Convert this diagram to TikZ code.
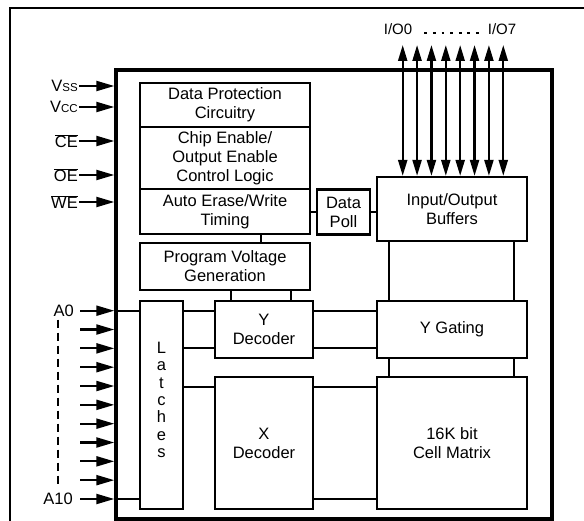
\documentclass[tikz,border=0pt]{standalone}
\usepackage{fontspec}
\setmainfont{Liberation Sans}
\usetikzlibrary{arrows.meta}
\newcommand\blkfont{\fontsize{16.5pt}{19pt}\selectfont}
\newcommand\subfont{\fontsize{11.5pt}{12pt}\selectfont}
\tikzset{
  blk/.style={draw, line width=2.2pt, align=center, inner sep=0pt, font=\blkfont},
  pin/.style={anchor=east, inner sep=1pt, font=\blkfont},
  wire/.style={line width=2.2pt},
  sig/.style={line width=2.2pt, -{Triangle[length=18pt,width=10pt]}},
  bus/.style={line width=2.2pt, {Triangle[length=16pt,width=9pt]}-{Triangle[length=16pt,width=9pt]}},
}
\begin{document}
\begin{tikzpicture}[x=1pt, y=-1pt]
\useasboundingbox (0,0) rectangle (584,521);
% Rahmen
\draw[line width=2.8pt] (10,540) -- (10,8) -- (600,8);
% Chip
\node[blk, line width=3.4pt, minimum width=436pt, minimum height=449pt] (chip) at (334,294.5) {};
% Steuerblock
\node[blk, minimum width=170pt, minimum height=44pt] (dp)  at (225,105)   {Data Protection\\Circuitry};
\node[blk, minimum width=170pt, minimum height=62pt] (ce)  at (225,158)   {Chip Enable/\\Output Enable\\Control Logic};
\node[blk, minimum width=170pt, minimum height=45pt] (aw)  at (225,211.5) {Auto Erase/Write\\Timing};
\node[blk, minimum width=170pt, minimum height=47pt] (pvg) at (225,266.5) {Program Voltage\\Generation};
\node[blk, minimum width=53pt,  minimum height=45pt] (dpl) at (343.5,212) {Data\\Poll};
% Datenpfad
\node[blk, minimum width=150pt, minimum height=64pt]  (iob) at (452,209)   {Input/Output\\Buffers};
\node[blk, minimum width=150pt, minimum height=57pt]  (ygt) at (452,329.5) {Y Gating};
\node[blk, minimum width=150pt, minimum height=132pt] (cel) at (452,443)   {16K bit\\Cell Matrix};
% Adresspfad
\node[blk, minimum width=43pt, minimum height=208pt,
      label={[align=center, inner sep=0pt, font=\fontsize{16.5pt}{17.3pt}\selectfont, yshift=5pt]center:L\\a\\t\\c\\h\\e\\s}] (lat) at (161.5,405) {};
\node[blk, minimum width=98pt, minimum height=57pt]  (ydc) at (264,329.5) {Y\\Decoder};
\node[blk, minimum width=98pt, minimum height=132pt] (xdc) at (264,443)   {X\\Decoder};
% Verbindungen
\draw[wire] ([xshift=36pt]aw.south) -- ([xshift=36pt]pvg.north);
\draw[wire] (dpl.west) -- (dpl.west -| aw.east);
\draw[wire] (dpl.east) -- (dpl.east -| iob.west);
\foreach \dx in {-33,27}
  \draw[wire] ([xshift=\dx pt]ydc.north) -- ([xshift=\dx pt]ydc.north |- pvg.south);
\foreach \dx in {-63,62} {
  \draw[wire] ([xshift=\dx pt]iob.south) -- ([xshift=\dx pt]ygt.north);
  \draw[wire] ([xshift=\dx pt]ygt.south) -- ([xshift=\dx pt]cel.north);
}
\foreach \dy in {18.5,-18.5} {
  \draw[wire] ([yshift=\dy pt]ydc.west) -- ([yshift=\dy pt]ydc.west -| lat.east);
  \draw[wire] ([yshift=\dy pt]ydc.east) -- ([yshift=\dy pt]ydc.east -| ygt.west);
}
\draw[wire] ([yshift=56pt]xdc.west) -- ([yshift=56pt]xdc.west -| lat.east);
\foreach \dy in {56,-56}
  \draw[wire] ([yshift=\dy pt]xdc.east) -- ([yshift=\dy pt]xdc.east -| cel.west);
% Steuereingaenge
\node[pin] (vss) at (79,86)  {V{\subfont SS}};
\node[pin] (vcc) at (79,107) {V{\subfont CC}};
\node[pin] (cen) at (79,141) {$\overline{\mbox{CE}}$};
\node[pin] (oen) at (79,175) {$\overline{\mbox{OE}}$};
\node[pin] (wen) at (79,202) {$\overline{\mbox{WE}}$};
\foreach \p in {vss,vcc,cen,oen,wen}
  \draw[sig] (\p.east) -- (\p.east -| chip.west);
% Adresseingaenge
\foreach \i in {0,...,10} {
  \coordinate (a\i) at (80,{310.7+18.83*\i});
  \draw[sig] (a\i) -- (a\i -| chip.west);
}
\draw[wire] (a0 -| chip.west) -- (a0 -| lat.west);
\draw[wire] (a10 -| chip.west) -- (a10 -| lat.west);
\node[pin] (la0)  at ([xshift=-5pt]a0)  {A0};
\node[pin] (la10) at ([xshift=-6pt]a10) {A10};
\draw[line width=2.6pt, dash pattern=on 8pt off 5pt] ([yshift=-2pt]la10.north |- la0.south) -- ([yshift=5pt]la10.north);
% Datenbus
\foreach \i in {0,...,7} {
  \coordinate (io\i) at ({402.7+14.37*\i},45);
  \draw[bus] (io\i) -- (io\i |- iob.north);
}
\node[font=\fontsize{15pt}{15pt}\selectfont, inner sep=0pt] (iol0) at (398,29) {I/O0};
\node[font=\fontsize{15pt}{15pt}\selectfont, inner sep=0pt] (iol7) at (502,29) {I/O7};
\draw[line width=2.8pt, dash pattern=on 2.8pt off 5.8pt] ([xshift=12pt,yshift=-4pt]iol0.east) -- ([xshift=-9pt,yshift=-4pt]iol7.west);
\end{tikzpicture}
\end{document}
